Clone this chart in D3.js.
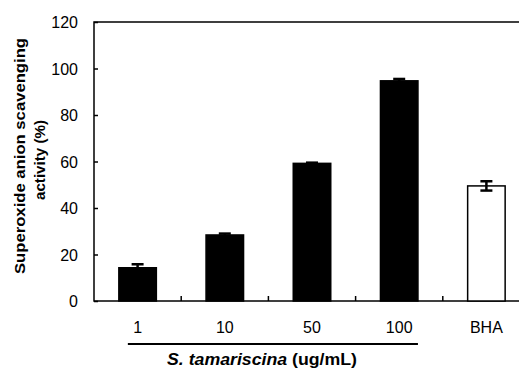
<!DOCTYPE html>
<html>
<head>
<meta charset="utf-8">
<script src="https://d3js.org/d3.v7.min.js"></script>
<style>
  body { margin: 0; background: #fff; }
  svg { display: block; font-family: "Liberation Sans", Arial, sans-serif; }
</style>
</head>
<body>
<svg width="519" height="369"></svg>
<script>
var WIDTH = 519;
var HEIGHT = 369;

var categories = ['1', '10', '50', '100', 'BHA'];
var values = [14.3, 28.4, 59.2, 94.7, 49.5];
var errors = [1.5, 0.6, 0.3, 0.8, 2.0];
var fills = ['#000', '#000', '#000', '#000', '#fff'];
var yTicks = [0, 20, 40, 60, 80, 100, 120];

var svg = d3.select('svg');

var x = d3.scaleBand()
    .domain(categories)
    .range([94, 530])
    .paddingInner(0.57)
    .paddingOuter(0.285);

var y = d3.scaleLinear()
    .domain([0, 120])
    .range([301, 22]);

// frame (right edge falls off the picture)
svg.append('rect')
    .attr('x', 94).attr('y', y(120))
    .attr('width', 530 - 94).attr('height', y(0) - y(120))
    .attr('fill', 'none').attr('stroke', '#000').attr('stroke-width', 1.5);

// y axis: ticks point inward
var yAxis = svg.append('g')
    .attr('transform', 'translate(94,0)')
    .call(d3.axisRight(y).tickValues(yTicks).tickSize(4).tickFormat(''));
yAxis.select('.domain').remove();
yAxis.selectAll('line').attr('stroke-width', 1.5);

svg.selectAll('.ylab')
    .data(yTicks)
    .enter().append('text')
    .attr('class', 'ylab')
    .attr('x', 78)
    .attr('y', function(d) { return y(d) + 6; })
    .attr('text-anchor', 'end')
    .attr('font-size', 16)
    .text(function(d) { return d; });

// x axis ticks between categories, pointing up
var bounds = categories.slice(1).map(function(c) { return x(c) - x.step() * x.paddingInner() / 2; });
svg.selectAll('.xtick')
    .data(bounds)
    .enter().append('line')
    .attr('x1', function(d) { return d; })
    .attr('x2', function(d) { return d; })
    .attr('y1', y(0)).attr('y2', y(0) - 5)
    .attr('stroke', '#000').attr('stroke-width', 1.5);

// bars
svg.selectAll('.bar')
    .data(values)
    .enter().append('rect')
    .attr('class', 'bar')
    .attr('x', function(d, i) { return x(categories[i]); })
    .attr('y', function(d) { return y(d); })
    .attr('width', x.bandwidth())
    .attr('height', function(d) { return y(0) - y(d); })
    .attr('fill', function(d, i) { return fills[i]; })
    .attr('stroke', '#000')
    .attr('stroke-width', 1.5);

// error bars
var eb = svg.selectAll('.err')
    .data(values)
    .enter().append('g')
    .attr('class', 'err')
    .attr('stroke', '#000')
    .attr('stroke-width', 2.5);
eb.append('line')
    .attr('x1', function(d, i) { return x(categories[i]) + x.bandwidth() / 2; })
    .attr('x2', function(d, i) { return x(categories[i]) + x.bandwidth() / 2; })
    .attr('y1', function(d, i) { return y(d + errors[i]); })
    .attr('y2', function(d, i) { return y(d - errors[i]); });
eb.append('line')
    .attr('x1', function(d, i) { return x(categories[i]) + x.bandwidth() / 2 - 6; })
    .attr('x2', function(d, i) { return x(categories[i]) + x.bandwidth() / 2 + 6; })
    .attr('y1', function(d, i) { return y(d + errors[i]); })
    .attr('y2', function(d, i) { return y(d + errors[i]); });
eb.append('line')
    .attr('x1', function(d, i) { return x(categories[i]) + x.bandwidth() / 2 - 6; })
    .attr('x2', function(d, i) { return x(categories[i]) + x.bandwidth() / 2 + 6; })
    .attr('y1', function(d, i) { return y(d - errors[i]); })
    .attr('y2', function(d, i) { return y(d - errors[i]); })
    .attr('stroke', function(d, i) { return fills[i] === '#000' ? 'none' : '#000'; });

// category labels
svg.selectAll('.xlab')
    .data(categories)
    .enter().append('text')
    .attr('class', 'xlab')
    .attr('x', function(d) { return x(d) + x.bandwidth() / 2; })
    .attr('y', 333)
    .attr('text-anchor', 'middle')
    .attr('font-size', 16)
    .text(function(d) { return d; });

// bracket under sample concentrations
svg.append('line')
    .attr('x1', x('1') + 9).attr('x2', x('100') + x.bandwidth())
    .attr('y1', 344).attr('y2', 344)
    .attr('stroke', '#000').attr('stroke-width', 2);

var xt = svg.append('text')
    .attr('x', 262).attr('y', 365)
    .attr('text-anchor', 'middle')
    .attr('font-size', 16)
    .attr('font-weight', 'bold')
    .attr('textLength', 190).attr('lengthAdjust', 'spacingAndGlyphs');
xt.append('tspan').attr('font-style', 'italic').text('S. tamariscina');
xt.append('tspan').text(' (ug/mL)');

// y axis title
var yt = svg.append('g')
    .attr('transform', 'translate(0,156) rotate(-90)');
yt.append('text')
    .attr('x', 0).attr('y', 25)
    .attr('text-anchor', 'middle')
    .attr('font-size', 14).attr('font-weight', 'bold')
    .attr('textLength', 236).attr('lengthAdjust', 'spacingAndGlyphs')
    .text('Superoxide anion scavenging');
yt.append('text')
    .attr('x', -4).attr('y', 45)
    .attr('text-anchor', 'middle')
    .attr('font-size', 14).attr('font-weight', 'bold')
    .attr('textLength', 80).attr('lengthAdjust', 'spacingAndGlyphs')
    .text('activity (%)');
</script>
</body>
</html>
